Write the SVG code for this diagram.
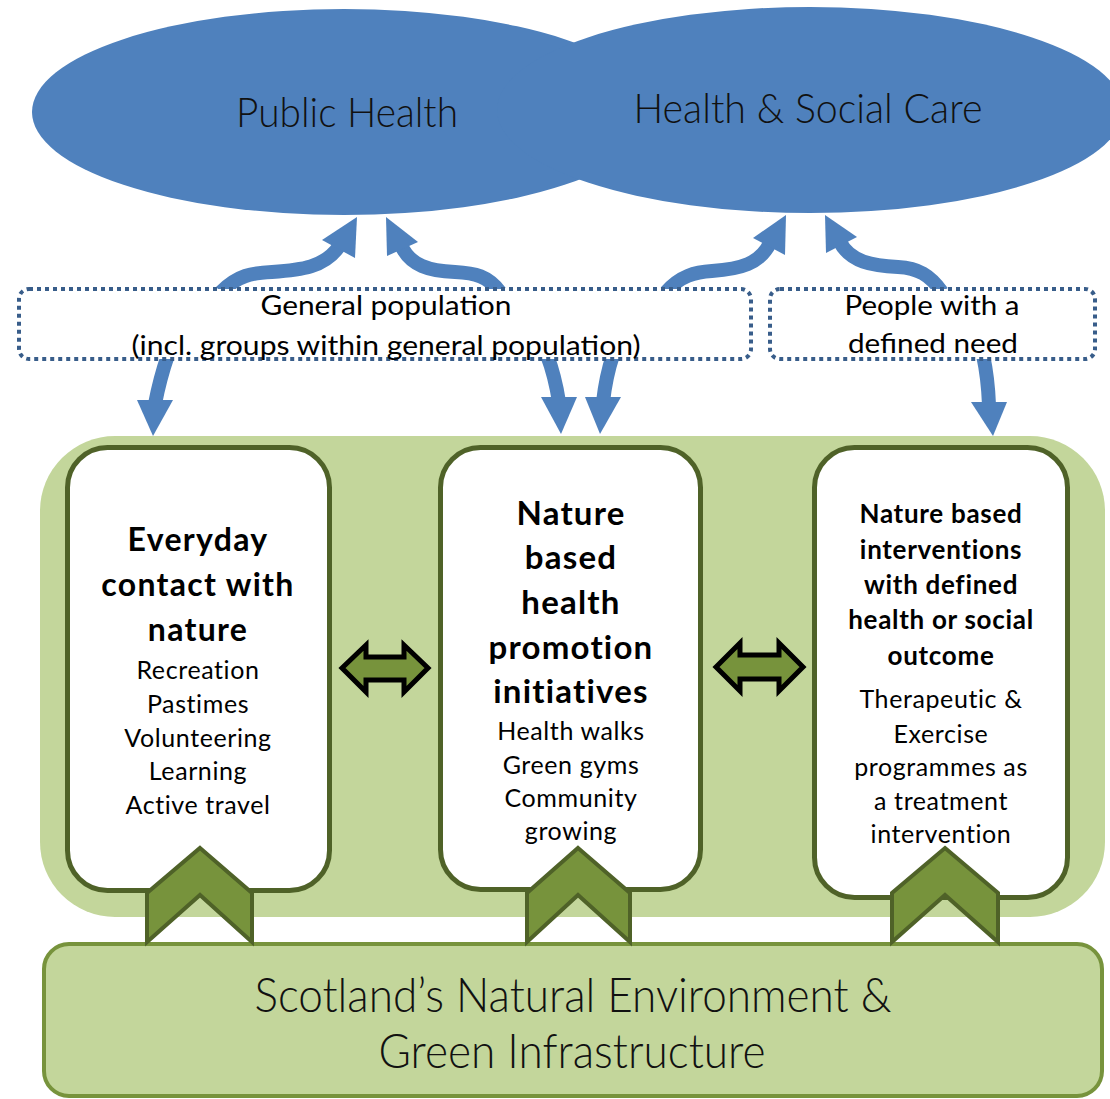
<svg xmlns="http://www.w3.org/2000/svg" width="1110" height="1099" viewBox="0 0 1110 1099">
<style>
.thin{font-family:Lato,"Liberation Sans",sans-serif;font-weight:300;fill:#111;text-anchor:middle}
.cal{font-family:Lato,"Liberation Sans",sans-serif;fill:#000;text-anchor:middle}
.reg{font-size:25px;letter-spacing:0.6px}
.b{font-weight:700}
.shaft{fill:none;stroke:#4F81BD;stroke-width:14}
.head{fill:#4F81BD}
.dot{fill:#fff;stroke:#385D8A;stroke-width:4;stroke-dasharray:4 4}
.box{fill:#fff;stroke:#4F6228;stroke-width:5}
.chev{fill:#77933C;stroke:#4F6228;stroke-width:4;stroke-linejoin:miter}
.dbl{fill:#77933C;stroke:#000;stroke-width:5;stroke-linejoin:miter}
</style>
<rect width="1110" height="1099" fill="#fff"/>
<g id="ellipses">
<ellipse cx="344" cy="112" rx="312" ry="103" fill="#4F81BD"/>
<ellipse cx="810" cy="110" rx="313" ry="103" fill="#4F81BD"/>
<text class="thin" x="347" y="127" font-size="42" textLength="222" lengthAdjust="spacingAndGlyphs">Public Health</text>
<text class="thin" x="808" y="123" font-size="42" textLength="349" lengthAdjust="spacingAndGlyphs">Health &amp; Social Care</text>
</g>
<g id="background">
<rect x="40" y="436" width="1065" height="481" rx="75" fill="#C3D69B"/>
</g>
<g id="connectors">
<path class="shaft" d="M221 292 C238 275 252 273 272 272 C300 270 325 268 340 245"/>
<polygon class="head" points="357,217 322,240 355,258"/>
<path class="shaft" d="M500 292 C488 276 475 273 455 272 C430 271 410 266 401 245"/>
<polygon class="head" points="386,217 418,242 387,256"/>
<path class="shaft" d="M666 292 C680 276 695 272 712 271 C740 269 760 264 770 243"/>
<polygon class="head" points="786,215 753,238 785,255"/>
<path class="shaft" d="M942 292 C930 275 918 268 898 267 C873 266 850 262 840 242"/>
<polygon class="head" points="825,215 857,237 826,253"/>
<path class="shaft" d="M168 355 Q160 378 155 404" stroke-width="12"/>
<polygon class="head" points="137,400 173,400 153,436"/>
<path class="shaft" d="M547 355 Q555 376 559 402" stroke-width="12"/>
<polygon class="head" points="541,397 577,397 561,434"/>
<path class="shaft" d="M613 355 Q606 376 603 402" stroke-width="12"/>
<polygon class="head" points="585,397 621,397 600,434"/>
<path class="shaft" d="M983 355 Q988 378 989 405" stroke-width="12"/>
<polygon class="head" points="971,402 1007,402 993,436"/>
<polygon class="dbl" points="342,668 366,645 366,657 404,657 404,645 428,668 404,692 404,680 366,680 366,692"/>
<polygon class="dbl" points="716,667 740,643 740,655 779,655 779,643 803,667 779,691 779,679 740,679 740,691"/>
</g>
<g id="general-population">
<rect class="dot" x="19" y="289" width="732" height="70" rx="10"/>
<text class="cal" x="386" y="315" font-size="27" textLength="251" lengthAdjust="spacingAndGlyphs">General population</text>
<text class="cal" x="386" y="355" font-size="27" textLength="509" lengthAdjust="spacingAndGlyphs">(incl. groups within general population)</text>
</g>
<g id="defined-need">
<rect class="dot" x="770" y="289" width="325" height="70" rx="10"/>
<text class="cal" x="932" y="315" font-size="27" textLength="175" lengthAdjust="spacingAndGlyphs">People with a</text>
<text class="cal" x="933" y="353" font-size="27" textLength="170" lengthAdjust="spacingAndGlyphs">defined need</text>
</g>
<g id="everyday">
<rect class="box" x="67.5" y="447.5" width="262" height="443" rx="40"/>
<text class="cal b" x="198" y="551" font-size="32" letter-spacing="1.3">Everyday</text>
<text class="cal b" x="198" y="596" font-size="32" letter-spacing="1.3">contact with</text>
<text class="cal b" x="198" y="641" font-size="32" letter-spacing="1.3">nature</text>
<text class="cal reg" x="198" y="679">Recreation</text>
<text class="cal reg" x="198" y="713">Pastimes</text>
<text class="cal reg" x="198" y="747">Volunteering</text>
<text class="cal reg" x="198" y="780">Learning</text>
<text class="cal reg" x="198" y="814">Active travel</text>
</g>
<g id="promotion">
<rect class="box" x="440.5" y="447.5" width="260" height="442" rx="40"/>
<text class="cal b" x="571" y="525" font-size="33" letter-spacing="1.2">Nature</text>
<text class="cal b" x="571" y="569" font-size="33" letter-spacing="1.2">based</text>
<text class="cal b" x="571" y="614" font-size="33" letter-spacing="1.2">health</text>
<text class="cal b" x="571" y="659" font-size="33" letter-spacing="1.2">promotion</text>
<text class="cal b" x="571" y="703" font-size="33" letter-spacing="1.2">initiatives</text>
<text class="cal reg" x="571" y="740">Health walks</text>
<text class="cal reg" x="571" y="774">Green gyms</text>
<text class="cal reg" x="571" y="807">Community</text>
<text class="cal reg" x="571" y="840">growing</text>
</g>
<g id="interventions">
<rect class="box" x="814.5" y="447.5" width="253" height="450" rx="40"/>
<text class="cal b" x="941" y="523" font-size="26" letter-spacing="0.7">Nature based</text>
<text class="cal b" x="941" y="559" font-size="26" letter-spacing="0.7">interventions</text>
<text class="cal b" x="941" y="594" font-size="26" letter-spacing="0.7">with defined</text>
<text class="cal b" x="941" y="629" font-size="26" letter-spacing="0.7">health or social</text>
<text class="cal b" x="941" y="665" font-size="26" letter-spacing="0.7">outcome</text>
<text class="cal reg" x="941" y="708">Therapeutic &amp;</text>
<text class="cal reg" x="941" y="743">Exercise</text>
<text class="cal reg" x="941" y="776">programmes as</text>
<text class="cal reg" x="941" y="810">a treatment</text>
<text class="cal reg" x="941" y="843">intervention</text>
</g>
<g id="environment">
<rect x="44" y="944" width="1058" height="152" rx="25" fill="#C3D69B" stroke="#77933C" stroke-width="4"/>
<text class="thin" x="573" y="1012" font-size="48" textLength="637" lengthAdjust="spacingAndGlyphs">Scotland’s Natural Environment &amp;</text>
<text class="thin" x="572" y="1068" font-size="48" textLength="387" lengthAdjust="spacingAndGlyphs">Green Infrastructure</text>
</g>
<g id="chevrons">
<polygon class="chev" points="200,848 252,893 252,942 200,895 147,942 147,893"/>
<polygon class="chev" points="578,848 630,893 630,942 578,895 527,942 527,893"/>
<polygon class="chev" points="945,848 998,893 998,942 945,895 892,942 892,893"/>
</g>
</svg>
